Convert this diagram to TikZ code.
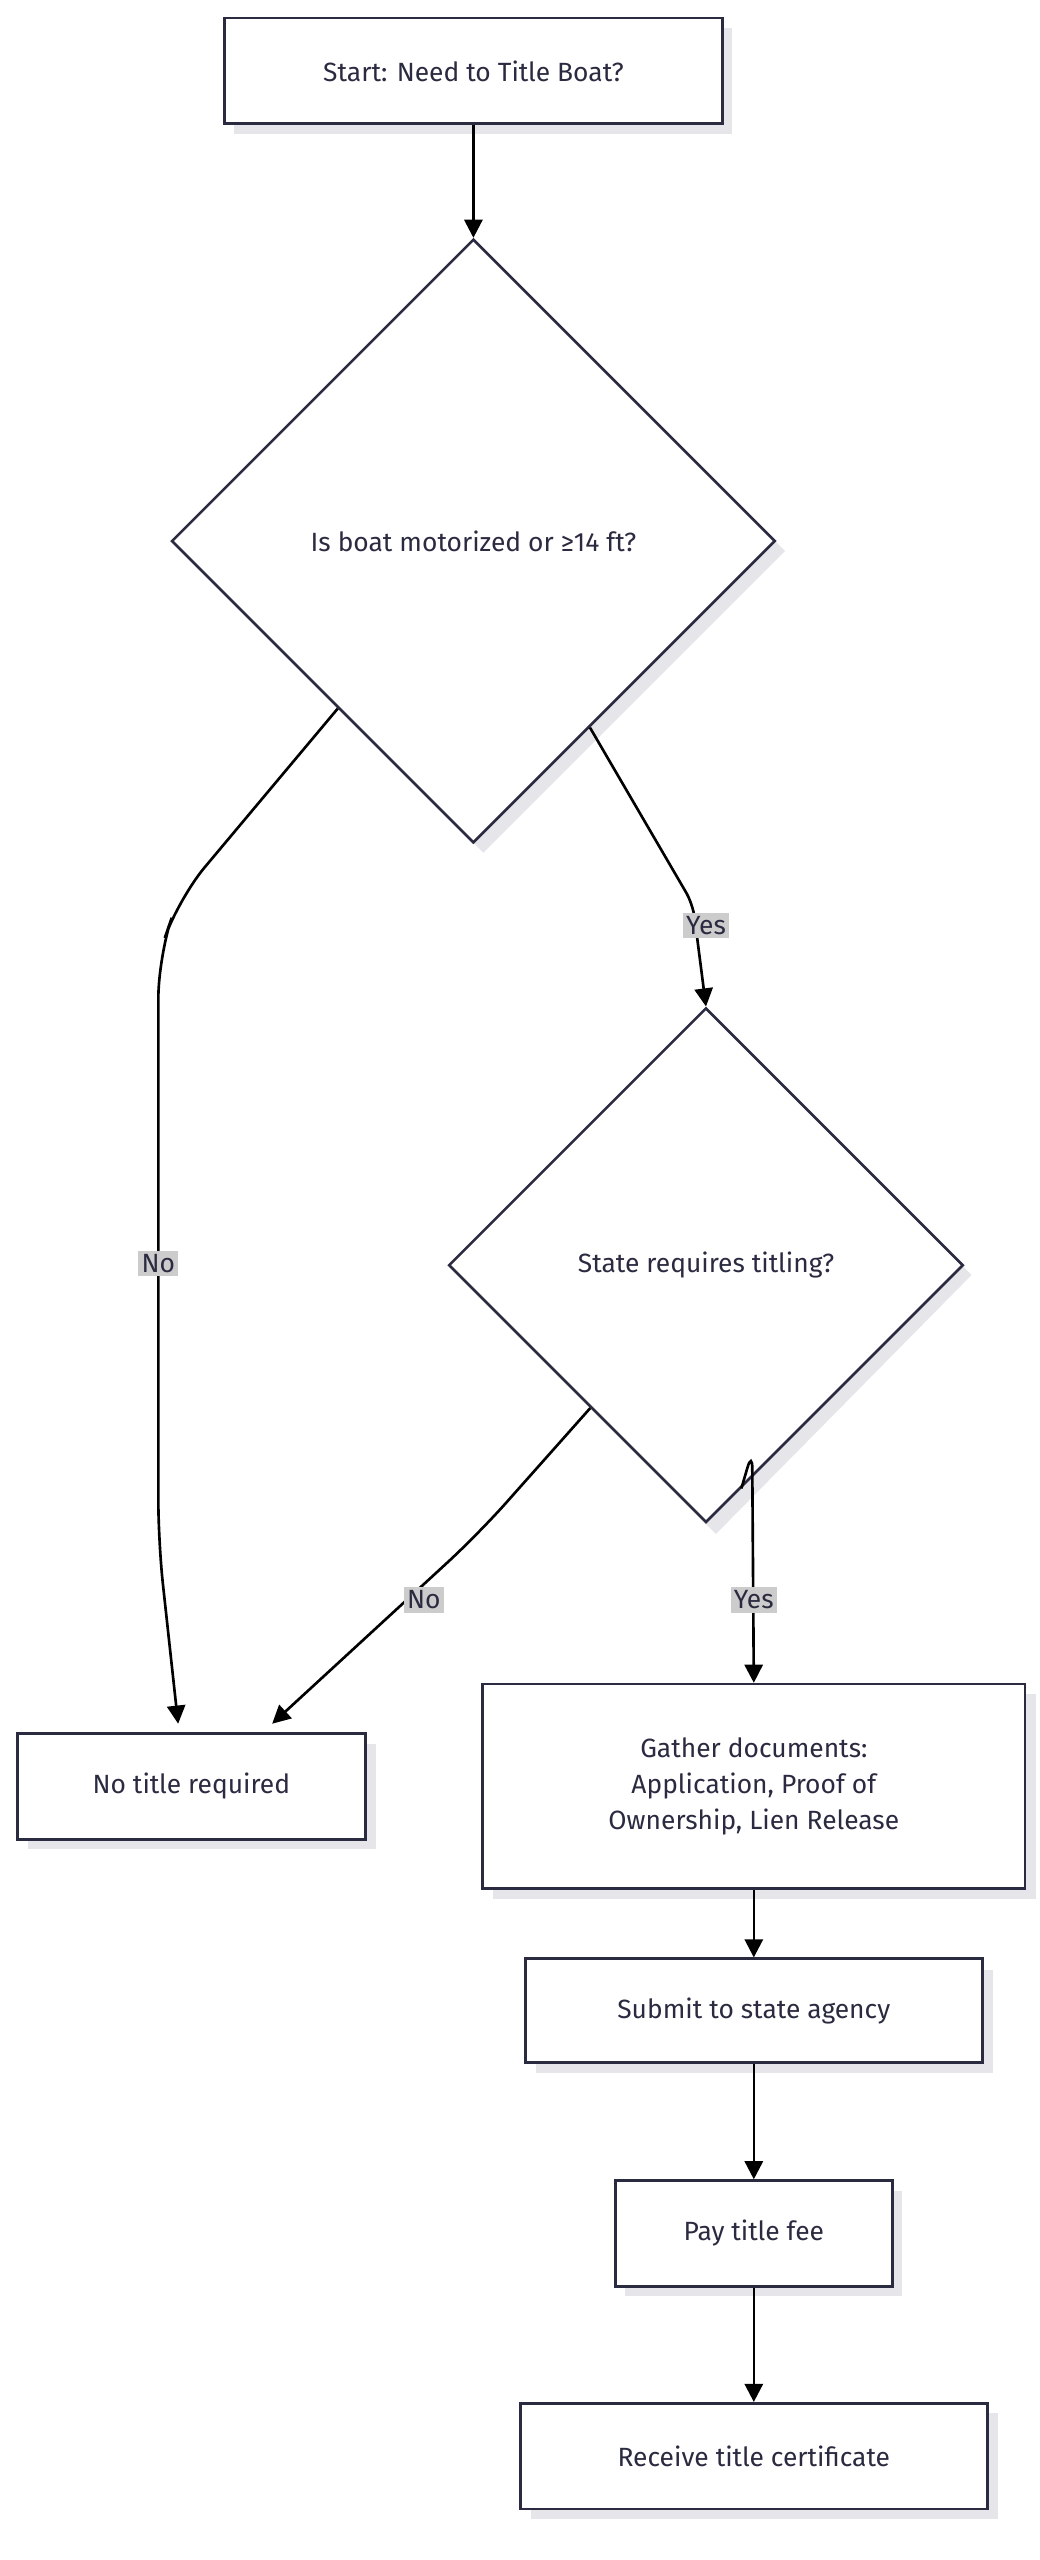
\documentclass[tikz,border=0pt]{standalone}
\usepackage{fontspec}
\setmainfont{Fira Sans}
\usetikzlibrary{shapes.geometric,arrows.meta}
\definecolor{bd}{HTML}{2A2A40}
\definecolor{sh}{HTML}{E6E6EA}
\begin{document}
\begin{tikzpicture}[x=1pt,y=-1pt,
  every node/.style={font=\fontsize{16}{22}\selectfont,text=bd},
  box/.style={draw=bd,line width=1.6pt,fill=white,inner sep=0pt,align=center},
  dia/.style={diamond,draw=bd,line width=1.6pt,fill=white,inner sep=0pt,minimum width=#1,minimum height=#1},
  lab/.style={fill=black!20,inner sep=2pt,text=bd},
  edge/.style={line width=1.6pt,black,-{Triangle[length=11pt,width=11pt]}}]
\useasboundingbox (0,0) rectangle (630,1552);
% shadows
\fill[sh] (142,17) rectangle (444,81);
\fill[sh] (17,1057) rectangle (228,1121);
\fill[sh] (299,1027) rectangle (628,1151);
\fill[sh] (325,1194) rectangle (602,1257);
\fill[sh] (379,1328) rectangle (547,1392);
\fill[sh] (322,1463) rectangle (605,1527);
\fill[sh] (293,151) -- (476,334) -- (293,517) -- (110,334) -- cycle;
\fill[sh] (434,617) -- (589,773) -- (434,930) -- (279,773) -- cycle;
% nodes
\node[box,minimum width=302pt,minimum height=64pt] (S) at (287,43) {Start: Need to Title Boat?};
\node[dia=366pt] (D1) at (287,328) {Is boat motorized or ≥14 ft?};
\node[dia=312pt] (D2) at (428,767) {State requires titling?};
\node[box,minimum width=211pt,minimum height=64pt] (N) at (116,1083) {No title required};
\node[box,minimum width=329pt,minimum height=124pt] (G) at (457,1083) {Gather documents:\\Application, Proof of\\Ownership, Lien Release};
\node[box,minimum width=277pt,minimum height=63pt] (Su) at (457,1219) {Submit to state agency};
\node[box,minimum width=168pt,minimum height=64pt] (P) at (457,1354) {Pay title fee};
\node[box,minimum width=283pt,minimum height=64pt] (R) at (457,1489) {Receive title certificate};
% edges
\draw[edge] (S) -- (D1);
\draw[edge,rounded corners=8pt] (D1.-58.8) -- (420,548) -- (D2.north);
\node[lab] (L1) at (428,561) {Yes};
\draw[edge,rounded corners=25pt] (D1.-129) -- (108,545) -- (96,580) -- (96,935) -- (108,1045);
\node[lab] (L2) at (96,766) {No};
\draw[edge,rounded corners=25pt] (D2.-129.5) -- (290,930) -- (165,1045);
\node[lab] (L3) at (257,970) {No};
\draw[edge,rounded corners=10pt] (D2.-81.6) -- (456,880) -- (G.north);
\node[lab] (L4) at (457,970) {Yes};
\draw[edge] (G) -- (Su);
\draw[edge] (Su) -- (P);
\draw[edge] (P) -- (R);
\end{tikzpicture}
\end{document}
